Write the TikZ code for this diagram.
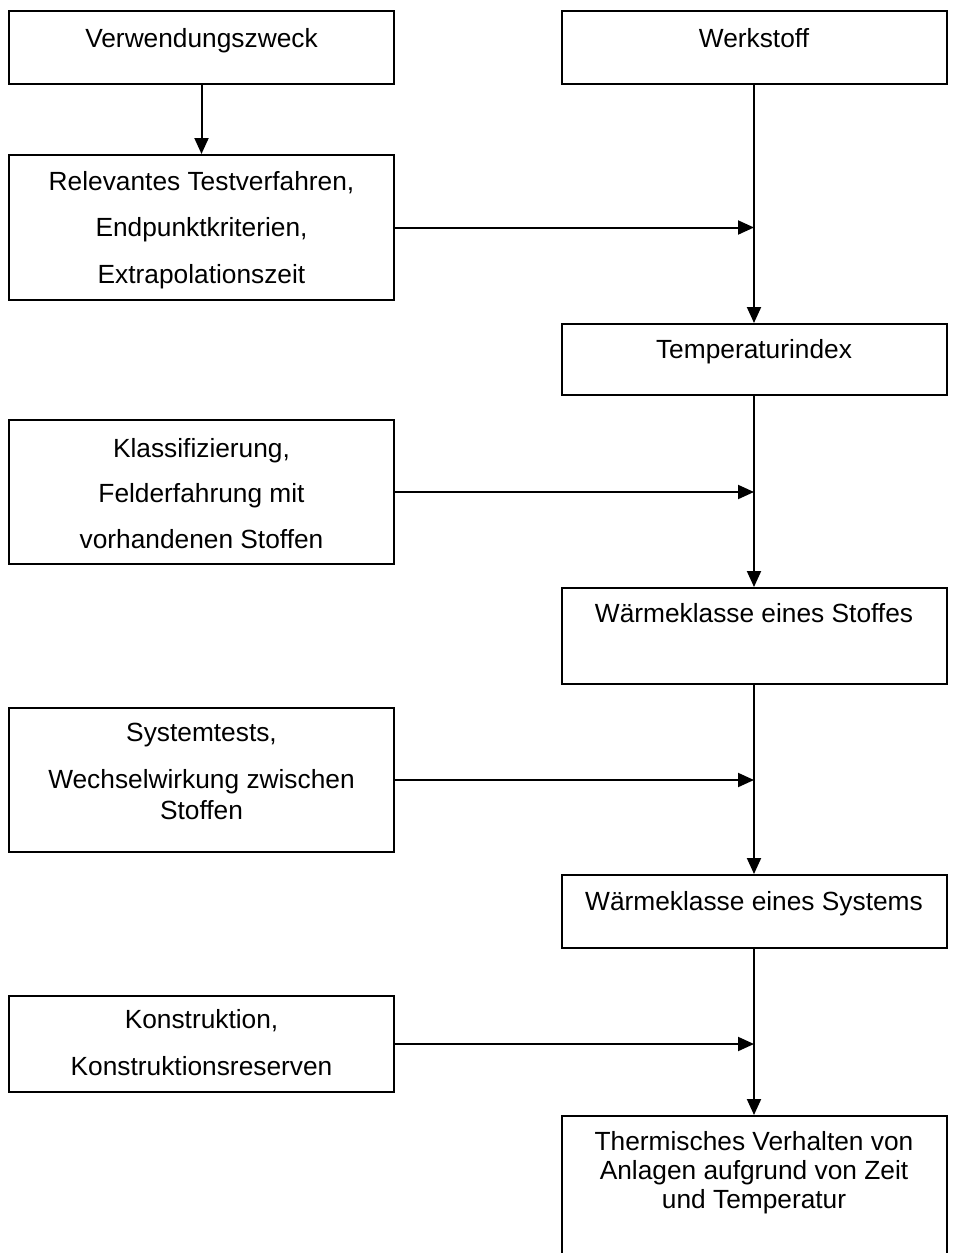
\documentclass[tikz,border=0pt]{standalone}
\usepackage{fontspec}
\setmainfont{Liberation Sans}
\usepackage{tikz}
\usetikzlibrary{arrows.meta,positioning}

\begin{document}
\begin{tikzpicture}[
    x=1pt, y=-1pt,
    >={Triangle[length=16pt,width=14pt]},
    flowbox/.style={draw, line width=2pt, anchor=north, inner sep=0pt, minimum width=385pt},
    boxtext/.style={inner sep=0pt, align=center, font=\fontsize{26.3}{30}\selectfont},
    arrow/.style={->, line width=2pt}
]
    \useasboundingbox (0,0) rectangle (958,1253);

    % Left column: influencing factors
    \node[flowbox, minimum height=73pt] (zweck) at (201.5,10) {};
    \node[flowbox, minimum height=145pt] (test) at (201.5,154) {};
    \node[flowbox, minimum height=144pt] (klass) at (201.5,419) {};
    \node[flowbox, minimum height=144pt] (systest) at (201.5,707) {};
    \node[flowbox, minimum height=96pt] (konstr) at (201.5,995) {};

    % Right column: main chain
    \node[flowbox, minimum height=73pt] (stoff) at (754,10) {};
    \node[flowbox, minimum height=71pt] (tindex) at (754,323) {};
    \node[flowbox, minimum height=96pt] (wkstoff) at (754,587) {};
    \node[flowbox, minimum height=73pt] (wksys) at (754,874) {};
    \node[flowbox, minimum height=150pt] (verh) at (754,1115) {};

    % Box texts
    \node[boxtext, below=18pt of zweck.north] (zweck-txt) {Verwendungszweck};
    \node[boxtext, below=17pt of test.north] (test-txt) {Relevantes Testverfahren,\\[16.5pt] Endpunktkriterien,\\[16.5pt] Extrapolationszeit};
    \node[boxtext, below=19pt of klass.north] (klass-txt) {Klassifizierung,\\[15.5pt] Felderfahrung mit\\[15.5pt] vorhandenen Stoffen};
    \node[boxtext, below=16pt of systest.north] (systest-txt) {Systemtests,\\[17pt] Wechselwirkung zwischen\\[1pt] Stoffen};
    \node[boxtext, below=14pt of konstr.north] (konstr-txt) {Konstruktion,\\[17pt] Konstruktionsreserven};
    \node[boxtext, below=18pt of stoff.north] (stoff-txt) {Werkstoff};
    \node[boxtext, below=16pt of tindex.north] (tindex-txt) {Temperaturindex};
    \node[boxtext, below=16pt of wkstoff.north] (wkstoff-txt) {Wärmeklasse eines Stoffes};
    \node[boxtext, below=17pt of wksys.north] (wksys-txt) {Wärmeklasse eines Systems};
    \node[boxtext, below=16pt of verh.north] (verh-txt) {Thermisches Verhalten von\\[-1pt] Anlagen aufgrund von Zeit\\[-1pt] und Temperatur};

    % Chain arrows
    \draw[arrow] (zweck) -- (test);
    \draw[arrow] (stoff) -- (tindex);
    \draw[arrow] (tindex) -- (wkstoff);
    \draw[arrow] (wkstoff) -- (wksys);
    \draw[arrow] (wksys) -- (verh);

    % Side inputs onto the chain
    \draw[arrow] (test) -- (test -| stoff);
    \draw[arrow] (klass) -- (klass -| stoff);
    \draw[arrow] (systest) -- (systest -| stoff);
    \draw[arrow] (konstr) -- (konstr -| stoff);

\end{tikzpicture}
\end{document}
